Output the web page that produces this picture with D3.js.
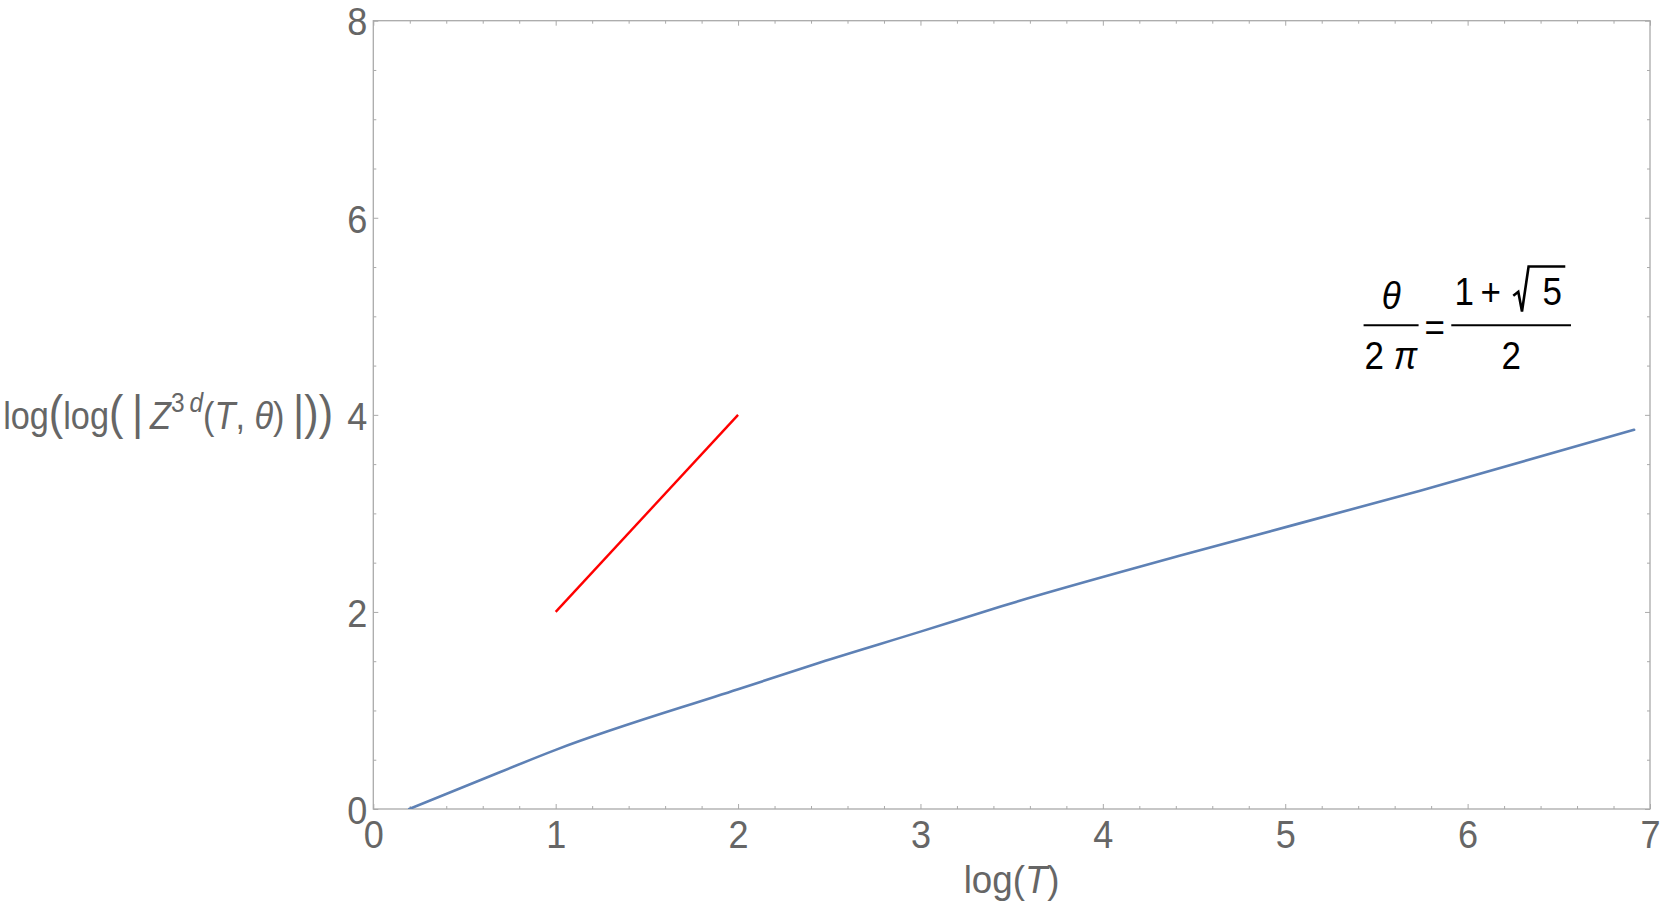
<!DOCTYPE html>
<html>
<head>
<meta charset="utf-8">
<script src="https://cdn.jsdelivr.net/npm/d3@7"></script>
<style>
  body { margin: 0; background: #fff; }
  svg text { font-family: "Liberation Sans", Arial, sans-serif; }
</style>
</head>
<body>
<div id="container"></div>
<script>
// valores
var blueX = [0.197, 0.693, 1, 2, 2.45, 3, 3.44, 4.42, 5.74, 6.913]
var blueY = [0, 0.373, 0.60, 1.215, 1.487, 1.80, 2.055, 2.569, 3.23, 3.848]

var redX = [1, 2]
var redY = [2, 4]

var xTicks = [0, 1, 2, 3, 4, 5, 6, 7]
var yTicks = [0, 2, 4, 6, 8]

var width = 1661,
  height = 906

var svg = d3.select("#container")
  .append("svg")
  .attr("width", width)
  .attr("height", height)

// Escalas
var x = d3.scaleLinear().domain([0, 7]).range([373.3, 1650])
var y = d3.scaleLinear().domain([0, 8]).range([809, 20.7])

var frameColor = "#aaaaaa",
  labelColor = "#666666"

// estica o texto (a fonte do Mathematica é mais alta)
function stretch(sel, sx, sy) {
  sel.each(function() {
    var b = this.getBBox()
    var cx = b.x + b.width / 2,
      cy = b.y + b.height / 2
    d3.select(this).attr("transform",
      "translate(" + cx + "," + cy + ") scale(" + sx + "," + sy + ") translate(" + (-cx) + "," + (-cy) + ")")
  })
}

// minor ticks
var xMinor = d3.range(0, 7.001, 0.2).filter(function(v){ return Math.abs(v - Math.round(v)) > 0.01 })
var yMinor = d3.range(0, 8.001, 0.5).filter(function(v){ return Math.abs(v / 2 - Math.round(v / 2)) > 0.01 })

function styleAxis(g) {
  g.select(".domain").remove()
  g.selectAll("line").attr("stroke", frameColor).attr("stroke-width", 1)
  g.selectAll("text")
    .attr("fill", labelColor)
    .attr("font-size", 35)
}

// eixo de baixo
var xLabels = svg.append("g")
  .attr("transform", "translate(0," + y(0) + ")")
  .call(d3.axisBottom(x).tickValues(xTicks).tickFormat(d3.format("d")).tickSizeInner(-5).tickSizeOuter(0).tickPadding(12.2))
  .call(styleAxis)
  .selectAll("text").attr("dy", "0.71em")
stretch(xLabels, 1.03, 1.13)

svg.append("g")
  .attr("transform", "translate(0," + y(0) + ")")
  .call(d3.axisBottom(x).tickValues(xMinor).tickFormat("").tickSizeInner(-3).tickSizeOuter(0))
  .call(styleAxis)

// eixo de cima
svg.append("g")
  .attr("transform", "translate(0," + y(8) + ")")
  .call(d3.axisTop(x).tickValues(xTicks).tickFormat("").tickSizeInner(-5).tickSizeOuter(0))
  .call(styleAxis)

svg.append("g")
  .attr("transform", "translate(0," + y(8) + ")")
  .call(d3.axisTop(x).tickValues(xMinor).tickFormat("").tickSizeInner(-3).tickSizeOuter(0))
  .call(styleAxis)

// eixo da esquerda
var yLabels = svg.append("g")
  .attr("transform", "translate(" + x(0) + ",0)")
  .call(d3.axisLeft(y).tickValues(yTicks).tickFormat(d3.format("d")).tickSizeInner(-5).tickSizeOuter(0).tickPadding(6.2))
  .call(styleAxis)
  .selectAll("text").attr("dy", "0.36em")
stretch(yLabels, 1.03, 1.13)

svg.append("g")
  .attr("transform", "translate(" + x(0) + ",0)")
  .call(d3.axisLeft(y).tickValues(yMinor).tickFormat("").tickSizeInner(-3).tickSizeOuter(0))
  .call(styleAxis)

// eixo da direita
svg.append("g")
  .attr("transform", "translate(" + x(7) + ",0)")
  .call(d3.axisRight(y).tickValues(yTicks).tickFormat("").tickSizeInner(-5).tickSizeOuter(0))
  .call(styleAxis)

svg.append("g")
  .attr("transform", "translate(" + x(7) + ",0)")
  .call(d3.axisRight(y).tickValues(yMinor).tickFormat("").tickSizeInner(-3).tickSizeOuter(0))
  .call(styleAxis)

// moldura
svg.append("rect")
  .attr("x", x(0))
  .attr("y", y(8))
  .attr("width", x(7) - x(0))
  .attr("height", y(0) - y(8))
  .attr("fill", "none")
  .attr("stroke", frameColor)
  .attr("stroke-width", 1.3)

// clip
svg.append("clipPath")
  .attr("id", "plot-clip")
  .append("rect")
  .attr("x", x(0))
  .attr("y", y(8))
  .attr("width", x(7) - x(0))
  .attr("height", y(0) - y(8))

var line = d3.line()
  .x(function(d) { return x(d[0]) })
  .y(function(d) { return y(d[1]) })

var smooth = d3.line()
  .x(function(d) { return x(d[0]) })
  .y(function(d) { return y(d[1]) })
  .curve(d3.curveMonotoneX)

var bluePts = d3.zip(blueX, blueY)

// primeiro trecho reto, o resto suave
svg.append("path")
  .attr("d", line(bluePts.slice(0, 2)) + smooth(bluePts.slice(1)))
  .attr("clip-path", "url(#plot-clip)")
  .attr("fill", "none")
  .attr("stroke", "#5e81b5")
  .attr("stroke-width", 2.6)
  .attr("stroke-linejoin", "round")
  .attr("stroke-linecap", "round")

svg.append("path")
  .datum(d3.zip(redX, redY))
  .attr("d", line)
  .attr("fill", "none")
  .attr("stroke", "#ff0000")
  .attr("stroke-width", 2.4)

// título do eixo x
var xLabel = svg.append("text")
  .attr("x", (x(0) + x(7)) / 2)
  .attr("y", 892)
  .attr("text-anchor", "middle")
  .attr("font-size", 36)
  .attr("fill", labelColor)
xLabel.append("tspan").text("log(")
xLabel.append("tspan").attr("font-style", "italic").text("T")
xLabel.append("tspan").text(")")
stretch(xLabel, 1.02, 1.1)

// título do eixo y
var yLabel = svg.append("text")
  .attr("x", 333)
  .attr("y", 427)
  .attr("text-anchor", "end")
  .attr("font-size", 35)
  .attr("fill", labelColor)
yLabel.append("tspan").text("log")
yLabel.append("tspan").attr("font-size", 44).text("(")
yLabel.append("tspan").text("log")
yLabel.append("tspan").attr("font-size", 44).text("(\u2009|")
yLabel.append("tspan").attr("font-style", "italic").text("\u2009Z")
yLabel.append("tspan").attr("font-size", 25).attr("dy", -15).text("3\u2009")
yLabel.append("tspan").attr("font-size", 25).attr("font-style", "italic").text("d")
yLabel.append("tspan").attr("dy", 15).text("(")
yLabel.append("tspan").attr("font-style", "italic").text("T")
yLabel.append("tspan").text(", ")
yLabel.append("tspan").attr("font-style", "italic").text("θ")
yLabel.append("tspan").text(")")
yLabel.append("tspan").attr("font-size", 44).text("\u2009|))")

// encaixa o título entre x=3 e x=333
var yb = yLabel.node().getBBox()
var sx = Math.min(1, 330 / yb.width)
var cyL = yb.y + yb.height / 2
yLabel.attr("transform",
  "translate(333," + cyL + ") scale(" + sx + ",1.1) translate(-333," + (-cyL) + ")")

// fórmula θ/2π = (1+√5)/2
var formula = svg.append("g")
  .attr("transform", "translate(" + x(5.82) + "," + y(4.91) + ")")
  .attr("fill", "#000")
  .attr("font-size", 35)

formula.append("line")
  .attr("x1", -71.2).attr("x2", -16.2).attr("y1", 0).attr("y2", 0)
  .attr("stroke", "#000").attr("stroke-width", 2)

formula.append("text")
  .attr("x", -43.5).attr("y", -18)
  .attr("text-anchor", "middle")
  .attr("font-style", "italic")
  .text("θ")

var den = formula.append("text")
  .attr("x", -44).attr("y", 42)
  .attr("text-anchor", "middle")
den.append("tspan").text("2 ")
den.append("tspan").attr("font-style", "italic").text("π")

formula.append("text")
  .attr("x", 0).attr("y", 14)
  .attr("text-anchor", "middle")
  .text("=")

formula.append("line")
  .attr("x1", 16.5).attr("x2", 136.2).attr("y1", 0).attr("y2", 0)
  .attr("stroke", "#000").attr("stroke-width", 2)

formula.append("text")
  .attr("x", 29.5).attr("y", -22)
  .attr("text-anchor", "middle")
  .text("1")

formula.append("text")
  .attr("x", 56).attr("y", -22)
  .attr("text-anchor", "middle")
  .text("+")

formula.append("path")
  .attr("d", "M78.5,-29.4 L83.5,-33.4 L87.2,-13.7 L93.8,-58.7 L130.5,-58.7")
  .attr("fill", "none")
  .attr("stroke", "#000")
  .attr("stroke-width", 2.6)
  .attr("stroke-linejoin", "miter")

formula.append("text")
  .attr("x", 117.5).attr("y", -22)
  .attr("text-anchor", "middle")
  .text("5")

formula.append("text")
  .attr("x", 76.4).attr("y", 42)
  .attr("text-anchor", "middle")
  .text("2")

stretch(formula.selectAll("text"), 1.0, 1.12)
</script>
</body>
</html>
